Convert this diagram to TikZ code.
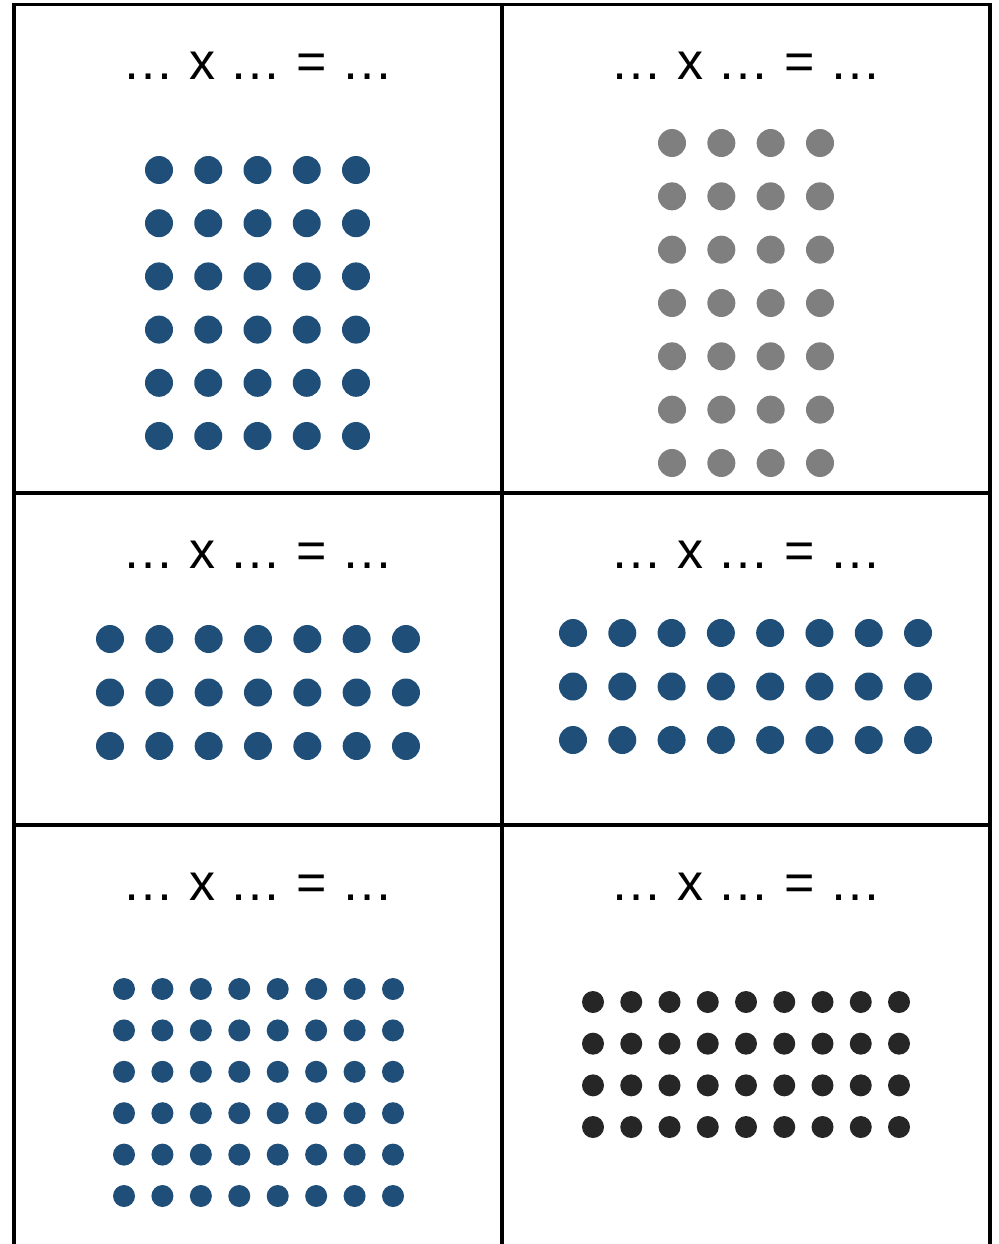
\documentclass[tikz,border=0pt]{standalone}
\usepackage{fontspec}
\setmainfont{Liberation Sans}
\definecolor{dotblue}{HTML}{1F4E79}
\definecolor{dotgray}{HTML}{7F7F7F}
\definecolor{dotdark}{HTML}{262626}
\begin{document}
\begin{tikzpicture}[x=1pt,y=-1pt,
  frame/.style={line width=3.5pt,black},
  eq/.style={anchor=base,inner sep=0pt,font=\fontsize{52}{60}\selectfont},
  bigdot/.style={circle,inner sep=0pt,minimum size=28pt,fill=#1},
  smalldot/.style={circle,inner sep=0pt,minimum size=22pt,fill=#1}]
\useasboundingbox (0,0) rectangle (998,1244);
% frame
\draw[frame] (14,1244) -- (14,4.5) -- (990,4.5) -- (990,1244);
\draw[frame] (502,4.5) -- (502,1244);
\draw[frame] (14,493) -- (990,493);
\draw[frame] (14,825) -- (990,825);
% equations
\node[eq] (t1) at (258,80) {… x … = …};
\node[eq] (t2) at (746,80) {… x … = …};
\node[eq] (t3) at (258,568) {… x … = …};
\node[eq] (t4) at (746,568) {… x … = …};
\node[eq] (t5) at (258,900) {… x … = …};
\node[eq] (t6) at (746,900) {… x … = …};
% panel 1: 5 x 6
\foreach \i in {0,...,4}
  \foreach \j in {0,...,5}
    \node[bigdot=dotblue] (a-\i-\j) at ({159+49.25*\i},{170+53.2*\j}) {};
% panel 2: 4 x 7 gray
\foreach \i in {0,...,3}
  \foreach \j in {0,...,6}
    \node[bigdot=dotgray] (b-\i-\j) at ({672+49.33*\i},{143+53.33*\j}) {};
% panel 3: 7 x 3
\foreach \i in {0,...,6}
  \foreach \j in {0,...,2}
    \node[bigdot=dotblue] (c-\i-\j) at ({110+49.33*\i},{639+53.5*\j}) {};
% panel 4: 8 x 3
\foreach \i in {0,...,7}
  \foreach \j in {0,...,2}
    \node[bigdot=dotblue] (d-\i-\j) at ({573+49.29*\i},{633+53.5*\j}) {};
% panel 5: 8 x 6 small
\foreach \i in {0,...,7}
  \foreach \j in {0,...,5}
    \node[smalldot=dotblue] (e-\i-\j) at ({124+38.43*\i},{989+41.4*\j}) {};
% panel 6: 9 x 4 small dark
\foreach \i in {0,...,8}
  \foreach \j in {0,...,3}
    \node[smalldot=dotdark] (f-\i-\j) at ({593+38.25*\i},{1002+41.67*\j}) {};
\end{tikzpicture}
\end{document}
